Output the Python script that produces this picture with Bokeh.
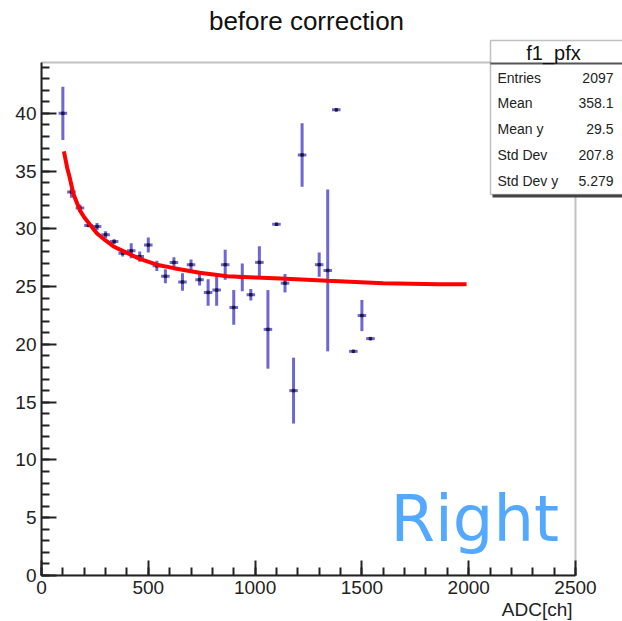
from bokeh.plotting import figure
from bokeh.models import Range1d, SingleIntervalTicker, Label, BoxAnnotation, ColumnDataSource, Title
from bokeh.embed import file_html
from bokeh.resources import INLINE

# ---- data ----
bin_centers = [100, 140, 180, 220, 260, 300, 340, 380, 420, 460, 500, 540, 580, 620,
               660, 700, 740, 780, 820, 860, 900, 940, 980, 1020, 1060, 1100, 1140,
               1180, 1220, 1300, 1340, 1380, 1460, 1500, 1540]
bin_means = [40.0, 33.2, 31.8, 30.3, 30.2, 29.5, 28.9, 27.9, 28.1, 27.6, 28.6, 26.8, 25.9, 27.1,
             25.4, 26.9, 25.6, 24.5, 24.7, 26.9, 23.2, 25.8, 24.3, 27.1, 21.3, 30.4, 25.3,
             16.0, 36.4, 26.9, 26.4, 40.3, 19.4, 22.5, 20.5]
bin_errors = [2.3, 0.5, 0.3, 0.1, 0.3, 0.3, 0.2, 0.3, 0.65, 0.45, 0.65, 0.45, 0.6, 0.45,
              0.75, 0.45, 0.5, 1.15, 1.35, 1.3, 1.5, 1.2, 0.5, 1.4, 3.4, 0.0, 0.8,
              2.85, 2.75, 1.05, 7.0, 0.0, 0.0, 1.35, 0.0]
bin_width = 40

fit_x = [105, 120, 130, 150, 180, 200, 230, 260, 300, 340, 380, 460, 540, 620, 740, 870, 1000,
         1120, 1340, 1600, 1860, 1990]
fit_y = [36.7, 35.3, 34.6, 33.0, 31.6, 31.0, 30.3, 29.6, 29.0, 28.45, 28.1, 27.4, 26.9, 26.6,
         26.2, 25.9, 25.8, 25.7, 25.5, 25.3, 25.2, 25.2]

stat_names = ["Entries", "Mean", "Mean y", "Std Dev", "Std Dev y"]
stat_values = ["2097", "358.1", "29.5", "207.8", "5.279"]

x_max = 2500
y_max = 44.4

# ---- layout (pixels) ----
W, H = 622, 621
AX_LEFT, AX_RIGHT, AX_TOP, AX_BOTTOM = 41, 575, 62, 575   # where the drawn axes frame sits

FONT = "Liberation Sans"
ERR_COLOR = "#6e66d2"
INK = "#222222"

# The plotting frame is extended to the top and right edges of the canvas so that the
# stats box and the title (drawn as annotations) are not clipped; the visible axes are bounded.
x_end = x_max * (W - AX_LEFT) / (AX_RIGHT - AX_LEFT)
y_end = y_max * AX_BOTTOM / (AX_BOTTOM - AX_TOP)

p = figure(width=W, height=H, x_range=Range1d(0, x_end), y_range=Range1d(0, y_end),
           output_backend="svg", toolbar_location=None,
           min_border_left=AX_LEFT, min_border_right=0, min_border_top=0,
           min_border_bottom=H - AX_BOTTOM)
p.xgrid.visible = False
p.ygrid.visible = False
p.background_fill_color = "white"
p.border_fill_color = "white"
p.outline_line_color = None

for ax, interval, bnds in ((p.xaxis[0], 500, (0, x_max)), (p.yaxis[0], 5, (0, y_max))):
    ax.ticker = SingleIntervalTicker(interval=interval, num_minor_ticks=5)
    ax.bounds = bnds
    ax.axis_line_color = INK
    ax.axis_line_width = 2
    ax.major_tick_line_color = INK
    ax.minor_tick_line_color = INK
    ax.major_tick_line_width = 2
    ax.minor_tick_line_width = 2
    ax.major_tick_in = 15
    ax.major_tick_out = 0
    ax.minor_tick_in = 8
    ax.minor_tick_out = 0
    ax.major_label_text_font = FONT
    ax.major_label_text_font_size = "19px"
    ax.major_label_text_color = INK
    ax.major_label_standoff = 5

# x-axis title, right-aligned under the axis end
p.add_layout(Title(text="ADC[ch]", align="right", offset=(W - AX_RIGHT + 3), standoff=0,
                   text_font=FONT, text_font_size="19px", text_font_style="normal",
                   text_color=INK), "below")

# frame box (top and right sides)
p.add_layout(BoxAnnotation(left=0, right=x_max, bottom=0, top=y_max,
                           fill_alpha=0, line_color="#333333", line_width=2, level="underlay"))

# ---- data ----
src = ColumnDataSource(dict(
    x=bin_centers, y=bin_means,
    lo=[m - e for m, e in zip(bin_means, bin_errors)],
    hi=[m + e for m, e in zip(bin_means, bin_errors)],
    xl=[c - bin_width / 2 for c in bin_centers],
    xr=[c + bin_width / 2 for c in bin_centers],
))
p.segment(x0="x", y0="lo", x1="x", y1="hi", source=src, line_color=ERR_COLOR, line_width=3)
p.segment(x0="xl", y0="y", x1="xr", y1="y", source=src, line_color=ERR_COLOR, line_width=3)
p.scatter(x="x", y="y", source=src, marker="square", size=2.5, color="#1a1a40")

p.line(fit_x, fit_y, line_color="#ff0000", line_width=4)

# ---- title ----
p.add_layout(Label(x=306, y=20, x_units="canvas", y_units="canvas", text="before correction",
                   text_align="center", text_baseline="middle",
                   text_font=FONT, text_font_size="26px", text_color="#111111"))

# ---- "Right" ----
p.add_layout(Label(x=390, y=518, x_units="canvas", y_units="canvas", text="Right",
                   text_align="left", text_baseline="middle",
                   text_font="DejaVu Sans", text_font_size="64px", text_color="#52a9ff"))

# ---- stats box ----
p.add_layout(BoxAnnotation(left=492, right=630, top=42, bottom=197,
                           left_units="canvas", right_units="canvas", top_units="canvas", bottom_units="canvas",
                           fill_color="#444444", fill_alpha=1, line_color=None))
p.add_layout(BoxAnnotation(left=490, right=628, top=40, bottom=194,
                           left_units="canvas", right_units="canvas", top_units="canvas", bottom_units="canvas",
                           fill_color="white", fill_alpha=1, line_color="#333333", line_width=1.5))
p.add_layout(BoxAnnotation(left=490, right=628, top=62, bottom=64,
                           left_units="canvas", right_units="canvas", top_units="canvas", bottom_units="canvas",
                           fill_color="#555555", fill_alpha=1, line_color=None))
p.add_layout(Label(x=553, y=52, x_units="canvas", y_units="canvas", text="f1_pfx",
                   text_align="center", text_baseline="middle",
                   text_font=FONT, text_font_size="20px", text_color="#111111"))
for i, (n, v) in enumerate(zip(stat_names, stat_values)):
    yy = 77 + i * 25.8
    p.add_layout(Label(x=497, y=yy, x_units="canvas", y_units="canvas", text=n,
                       text_align="left", text_baseline="middle",
                       text_font=FONT, text_font_size="14px", text_color=INK))
    p.add_layout(Label(x=613, y=yy, x_units="canvas", y_units="canvas", text=v,
                       text_align="right", text_baseline="middle",
                       text_font=FONT, text_font_size="14px", text_color=INK))

open("out.html", "w").write(file_html(p, INLINE))
